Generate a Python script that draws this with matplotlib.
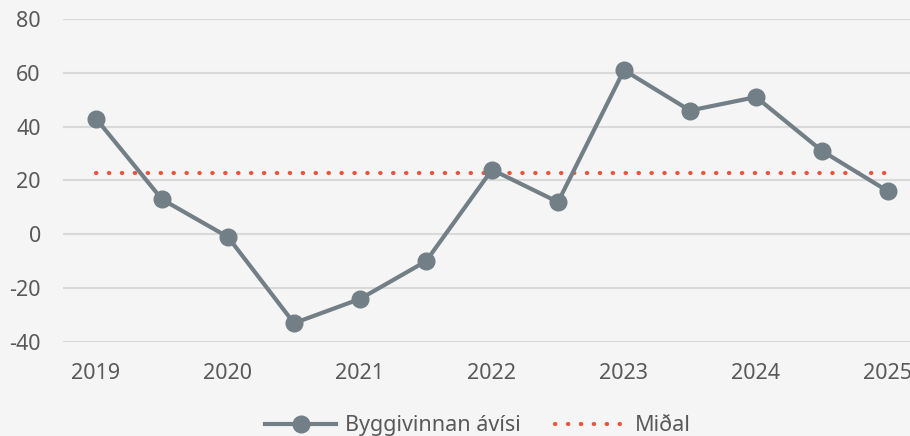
import matplotlib.pyplot as plt
import numpy as np

# data
years = ["2019", "2020", "2021", "2022", "2023", "2024", "2025"]
vals = [43, 13, -1, -33, -24, -10, 24, 12, 61, 46, 51, 31, 16]
mean_val = 22.7

plt.rcParams['font.family'] = ['Noto Sans', 'DejaVu Sans']
plt.rcParams['axes.unicode_minus'] = False

fig = plt.figure(figsize=(9.1, 4.36), dpi=100)
fig.patch.set_facecolor('#f5f5f5')
ax = fig.add_axes([63/910, 94/436, 858/910, 323/436])
ax.set_facecolor('#f5f5f5')

x = np.arange(len(vals))
ax.plot(x, vals, color='#737f87', lw=3, marker='o', ms=12,
        label='Byggivinnan ávísi', zorder=3)
ax.plot(x, [mean_val] * len(vals), color='#e8553f', lw=3,
        linestyle=(0, (0.1, 3)), dash_capstyle='round', label='Miðal', zorder=2)

ax.set_xlim(-0.5, 12.5)
ax.set_ylim(-40, 80)
ax.set_yticks(range(-40, 81, 20))
ax.set_xticks(np.arange(0, 13, 2))
ax.set_xticklabels(years)
ax.grid(axis='y', color='#d9d9d9', lw=1.5)
ax.set_axisbelow(True)
for sp in ax.spines.values():
    sp.set_visible(False)
ax.tick_params(length=0, labelsize=15.5, colors='#595959', pad=15)
ax.tick_params(axis='y', pad=16)

leg = fig.legend(loc='lower center', bbox_to_anchor=(0.525, -0.045), ncol=2,
                 frameon=False, fontsize=15.5, handlelength=3.3,
                 columnspacing=1.6, handletextpad=0.4)
for t in leg.get_texts():
    t.set_color('#595959')

fig.savefig('out.png', dpi=100, facecolor=fig.get_facecolor())
